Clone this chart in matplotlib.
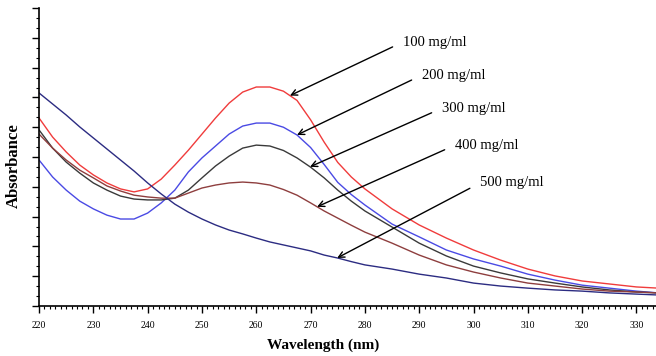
# UV-Vis absorbance spectra of the extract at different concentrations
import numpy as np
import matplotlib
matplotlib.use("Agg")
import matplotlib.pyplot as plt
from matplotlib.ticker import MultipleLocator, AutoMinorLocator

# wavelength grid (nm)
wavelength = [220, 222.5, 225, 227.5, 230, 232.5, 235, 237.5, 240, 242.5, 245, 247.5,
              250, 252.5, 255, 257.5, 260, 262.5, 265, 267.5, 270, 272.5, 275, 277.5, 280,
              285, 290, 295, 300, 305, 310, 315, 320, 325, 330, 334]

# absorbance (arbitrary units, y axis has no labels)
abs_100 = [0.631, 0.567, 0.517, 0.473, 0.440, 0.413, 0.393, 0.383, 0.393, 0.426, 0.473, 0.523,
           0.577, 0.631, 0.681, 0.718, 0.735, 0.735, 0.721, 0.690, 0.625, 0.550, 0.482, 0.433, 0.393,
           0.326, 0.272, 0.228, 0.188, 0.154, 0.124, 0.101, 0.084, 0.074, 0.064, 0.060]
abs_200 = [0.490, 0.433, 0.389, 0.352, 0.326, 0.305, 0.292, 0.292, 0.312, 0.346, 0.389, 0.450,
           0.497, 0.537, 0.577, 0.604, 0.614, 0.614, 0.600, 0.574, 0.532, 0.475, 0.415, 0.374, 0.339,
           0.275, 0.232, 0.188, 0.158, 0.134, 0.107, 0.087, 0.070, 0.060, 0.050, 0.044]
abs_300 = [0.591, 0.530, 0.483, 0.446, 0.413, 0.389, 0.369, 0.359, 0.356, 0.356, 0.362, 0.389,
           0.430, 0.470, 0.503, 0.530, 0.540, 0.537, 0.522, 0.497, 0.466, 0.430, 0.389, 0.352, 0.319,
           0.265, 0.211, 0.168, 0.134, 0.111, 0.091, 0.077, 0.064, 0.054, 0.047, 0.044]
abs_400 = [0.577, 0.530, 0.490, 0.456, 0.430, 0.403, 0.386, 0.372, 0.366, 0.362, 0.362, 0.379,
           0.396, 0.406, 0.413, 0.416, 0.413, 0.406, 0.391, 0.372, 0.346, 0.319, 0.295, 0.271, 0.248,
           0.211, 0.171, 0.138, 0.114, 0.094, 0.077, 0.067, 0.057, 0.050, 0.047, 0.044]
abs_500 = [0.715, 0.678, 0.641, 0.601, 0.564, 0.527, 0.490, 0.453, 0.413, 0.376, 0.342, 0.315,
           0.292, 0.272, 0.255, 0.242, 0.228, 0.215, 0.205, 0.195, 0.185, 0.171, 0.161, 0.149, 0.138,
           0.124, 0.107, 0.094, 0.077, 0.067, 0.060, 0.054, 0.050, 0.044, 0.040, 0.037]

labels = ["100 mg/ml", "200 mg/ml", "300 mg/ml", "400 mg/ml", "500 mg/ml"]
series = [abs_100, abs_200, abs_300, abs_400, abs_500]
colors = ["#f03c3c", "#4a4ae4", "#3a3a3a", "#8e3e3e", "#2c2c82"]

# where each arrow touches its curve (nm) and where its label sits
arrow_wl = [266.2, 267.5, 269.9, 271.2, 274.9]
text_pos = [(287.0, 0.886), (290.5, 0.775), (294.2, 0.664), (296.6, 0.540), (301.2, 0.413)]

fig = plt.figure(figsize=(6.56, 3.56), dpi=100)
ax = fig.add_axes([0.0595, 0.1404, 0.9405, 0.837])

for y, c in zip(series, colors):
    ax.plot(wavelength, y, color=c, lw=1.0)

for lab, y, wl, tp in zip(labels, series, arrow_wl, text_pos):
    tip = (wl, np.interp(wl, wavelength, y))
    ax.annotate(lab, xy=tip, xytext=tp, ha="left", va="center",
                fontsize=10.5, family="Liberation Serif",
                arrowprops=dict(arrowstyle="->", color="black", lw=1.0,
                                relpos=(0, 0.5), shrinkA=6, shrinkB=0))

ax.set_xlim(220, 333.6)
ax.set_ylim(0, 1)
for s in ["top", "right"]:
    ax.spines[s].set_visible(False)
ax.spines["left"].set_linewidth(1.2)
ax.spines["bottom"].set_linewidth(1.2)

ax.xaxis.set_major_locator(MultipleLocator(10))
ax.xaxis.set_minor_locator(MultipleLocator(1))
ax.yaxis.set_major_locator(MultipleLocator(0.1))
ax.yaxis.set_minor_locator(AutoMinorLocator(3))
ax.tick_params(which="major", direction="out", length=5, width=1)
ax.tick_params(which="minor", direction="out", length=2.5, width=0.8)
ax.tick_params(axis="y", labelleft=False)
ax.tick_params(axis="x", labelsize=7, pad=6)
for t in ax.get_xticklabels():
    t.set_family("Liberation Serif")

ax.set_xlabel("Wavelength (nm)", fontsize=11, fontweight="bold", family="Liberation Serif")
ax.xaxis.set_label_coords(0.46, -0.11)
ax.set_ylabel("Absorbance", fontsize=12, fontweight="bold", family="Liberation Serif")
ax.yaxis.set_label_coords(-0.028, 0.47)

fig.savefig("out.png", dpi=100)
